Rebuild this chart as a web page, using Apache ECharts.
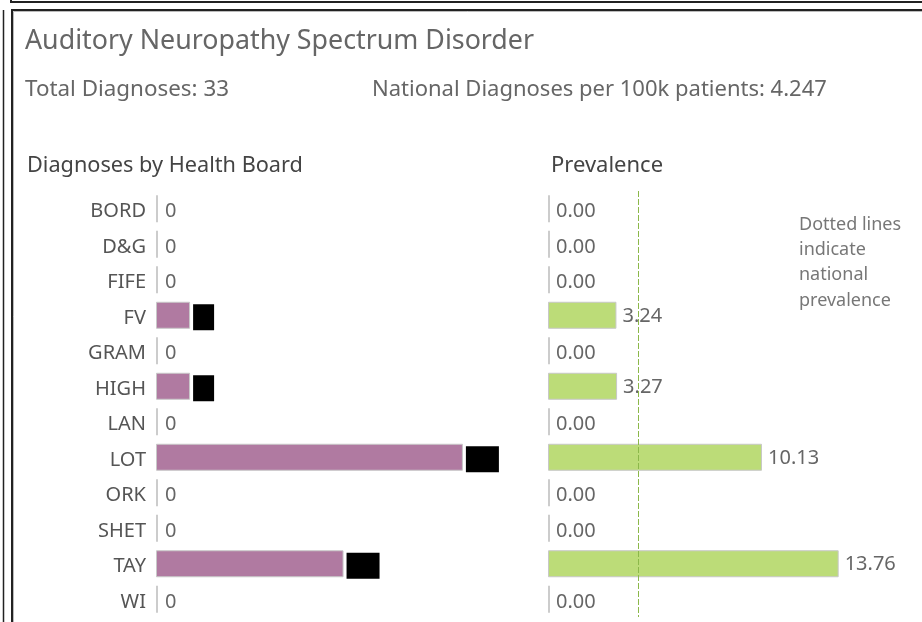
<!DOCTYPE html>
<html>
<head>
<meta charset="utf-8">
<script src="https://cdn.jsdelivr.net/npm/echarts@6/dist/echarts.min.js"></script>
<style>
html,body{margin:0;padding:0;background:#fff;}
#chart{width:922px;height:622px;}
</style>
</head>
<body>
<div id="chart"></div>
<script>
// ---- data ----
var boards = ['BORD','D&G','FIFE','FV','GRAM','HIGH','LAN','LOT','ORK','SHET','TAY','WI'];
var diagnoses = [0,0,0,2,0,2,0,18,0,0,11,0];
var prevalence = [0,0,0,3.24,0,3.27,0,10.13,0,0,13.76,0];
var nationalPrevalence = 4.247;
var totalDiagnoses = 33;

var FONT = '"Noto Sans", "Open Sans", sans-serif';
var chart = echarts.init(document.getElementById('chart'));

function zeroStyled(arr, nonZeroLabel) {
  return arr.map(function (v) {
    if (v === 0) return { value: v, itemStyle: { color: '#cccccc', borderWidth: 0 } };
    var item = { value: v };
    if (nonZeroLabel) item.label = nonZeroLabel;
    return item;
  });
}

var gridTop = 191, gridHeight = 426;

var option = {
  animation: false,
  grid: [
    { left: 156, top: gridTop, width: 341, height: gridHeight },
    { left: 548, top: gridTop, width: 338, height: gridHeight }
  ],
  xAxis: [
    { gridIndex: 0, type: 'value', min: 0, max: 20, show: false },
    { gridIndex: 1, type: 'value', min: 0, max: 16, show: false }
  ],
  yAxis: [
    { gridIndex: 0, type: 'category', data: boards, inverse: true,
      axisLine: { show: false }, axisTick: { show: false }, splitLine: { show: false },
      axisLabel: { margin: 10, formatter: function (v) { return '{c|' + v + '}'; },
        rich: { c: { color: '#555', fontSize: 20, fontFamily: FONT, padding: [6, 0, 0, 0] } } } },
    { gridIndex: 1, type: 'category', data: boards, inverse: true,
      axisLine: { show: false }, axisTick: { show: false }, splitLine: { show: false },
      axisLabel: { show: false } }
  ],
  series: [
    {
      type: 'bar', xAxisIndex: 0, yAxisIndex: 0,
      data: zeroStyled(diagnoses, { offset: [0, 2] }),
      barWidth: 27, barMinHeight: 2,
      itemStyle: { color: '#b07aa1', borderColor: '#c8c8c8', borderWidth: 1 },
      label: {
        show: true, position: 'right', distance: 3,
        fontFamily: FONT, fontSize: 20, color: '#000',
        formatter: function (p) {
          if (p.value === 0) return '{z|0}';
          return String(p.value).length > 1 ? '{b2|' + p.value + '}' : '{b1|' + p.value + '}';
        },
        rich: {
          z: { color: '#666', fontSize: 20, fontFamily: FONT, padding: [6, 0, 0, 4] },
          b1: { width: 21, height: 26, backgroundColor: '#000', color: '#000', fontSize: 14, align: 'center' },
          b2: { width: 33, height: 26, backgroundColor: '#000', color: '#000', fontSize: 14, align: 'center' }
        }
      }
    },
    {
      type: 'bar', xAxisIndex: 1, yAxisIndex: 1,
      data: zeroStyled(prevalence),
      barWidth: 27, barMinHeight: 2,
      itemStyle: { color: '#bcdc78', borderColor: '#c8c8c8', borderWidth: 1 },
      label: {
        show: true, position: 'right', distance: 6, offset: [0, 1],
        fontFamily: FONT, fontSize: 20, color: '#666',
        formatter: function (p) { return p.value === 0 ? '{z|0.00}' : Number(p.value).toFixed(2); },
        rich: { z: { color: '#666', fontSize: 20, fontFamily: FONT, padding: [4, 0, 0, 0] } }
      },
      markLine: {
        silent: true, symbol: 'none', z: 10,
        label: { show: false },
        lineStyle: { type: [6, 2], color: '#8cb84a', width: 1 },
        data: [{ xAxis: nationalPrevalence }]
      }
    }
  ],
  graphic: [
    // frames
    { type: 'polyline', shape: { points: [[11, 0], [11, 2], [922, 2]] }, style: { stroke: '#222', lineWidth: 2, fill: null } },
    { type: 'line', shape: { x1: 3.5, y1: 10, x2: 3.5, y2: 622 }, style: { stroke: '#222', lineWidth: 1.5 } },
    { type: 'polyline', shape: { points: [[12, 622], [12, 10], [922, 10]] }, style: { stroke: '#222', lineWidth: 2, fill: null } },
    { type: 'polyline', shape: { points: [[13.5, 622], [13.5, 11.5], [922, 11.5]] }, style: { stroke: '#bbb', lineWidth: 1, fill: null } },
    // texts
    { type: 'text', x: 25, y: 41, style: { text: 'Auditory Neuropathy Spectrum Disorder', fontSize: 26.8, fontFamily: FONT, fill: '#666', verticalAlign: 'middle' } },
    { type: 'text', x: 25, y: 90, style: { text: 'Total Diagnoses: ' + totalDiagnoses, fontSize: 22.4, fontFamily: FONT, fill: '#666', verticalAlign: 'middle' } },
    { type: 'text', x: 372, y: 90, style: { text: 'National Diagnoses per 100k patients: ' + nationalPrevalence, fontSize: 22, fontFamily: FONT, fill: '#666', verticalAlign: 'middle' } },
    { type: 'text', x: 27, y: 166, style: { text: 'Diagnoses by Health Board', fontSize: 21.7, fontFamily: FONT, fill: '#444', verticalAlign: 'middle' } },
    { type: 'text', x: 551, y: 166, style: { text: 'Prevalence', fontSize: 22, fontFamily: FONT, fill: '#444', verticalAlign: 'middle' } },
    { type: 'text', x: 799, y: 212, style: { text: 'Dotted lines\nindicate\nnational\nprevalence', fontSize: 18, lineHeight: 25.3, fontFamily: FONT, fill: '#777', verticalAlign: 'top' } }
  ]
};
chart.setOption(option);
</script>
</body>
</html>
